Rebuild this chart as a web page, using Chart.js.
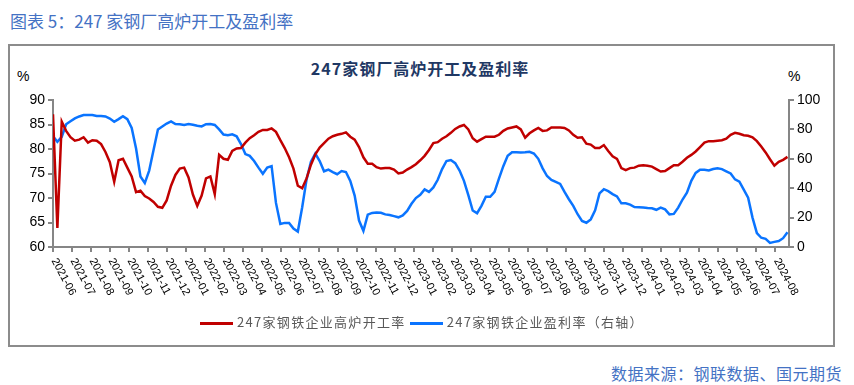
<!DOCTYPE html>
<html>
<head>
<meta charset="utf-8">
<script src="https://cdn.jsdelivr.net/npm/chart.js@4.4.1/dist/chart.umd.min.js"></script>
<style>
  body { margin: 0; background: #fff; width: 854px; height: 385px; position: relative; overflow: hidden;
         font-family: "Liberation Sans", Arial, "Noto Sans CJK SC", sans-serif; }
  .abs { position: absolute; white-space: nowrap; }
  #caption { left: 10px; top: 8px; font-size: 17px; color: #4472C4; font-family: "Noto Sans CJK SC", sans-serif; }
  #frame { left: 8px; top: 44px; width: 823px; height: 299px; border: 2px solid #8c8c8c; }
  #title { left: 0; width: 840px; top: 56px; text-align: center; font-size: 16px; font-weight: bold; color: #1F3864;
           letter-spacing: 1px; font-family: "Noto Sans CJK SC", sans-serif; }
  .pct { top: 68px; font-size: 14px; color: #000; }
  #legend { left: 200px; top: 312px; font-size: 13px; color: #595959; font-family: "Noto Sans CJK SC", sans-serif; letter-spacing: 1.3px; }
  #legend span.sw { display: inline-block; width: 33px; height: 3px; vertical-align: middle; margin-right: 4px; }
  #source { left: 611px; top: 361px; font-size: 16px; color: #4472C4; font-family: "Noto Sans CJK SC", sans-serif; letter-spacing: 0.5px; }
  #wrap { position: absolute; left: 10px; top: 46px; width: 822px; height: 299px; }
</style>
</head>
<body>
<div id="caption" class="abs">图表 5：247 家钢厂高炉开工及盈利率</div>
<div id="frame" class="abs"></div>
<div id="title" class="abs">247家钢厂高炉开工及盈利率</div>
<div class="abs pct" style="left:17px;">%</div>
<div class="abs pct" style="left:788px;">%</div>
<div id="wrap"><canvas id="c" width="822" height="299"></canvas></div>
<div id="legend" class="abs"><span class="sw" style="background:#C00000"></span>247家钢铁企业高炉开工率 <span class="sw" style="background:#0A74FF"></span>247家钢铁企业盈利率（右轴）</div>
<div id="source" class="abs">数据来源：钢联数据、国元期货</div>

<script>
// month tick labels
var months = ['2021-06','2021-07','2021-08','2021-09','2021-10','2021-11','2021-12',
  '2022-01','2022-02','2022-03','2022-04','2022-05','2022-06','2022-07','2022-08','2022-09','2022-10','2022-11','2022-12',
  '2023-01','2023-02','2023-03','2023-04','2023-05','2023-06','2023-07','2023-08','2023-09','2023-10','2023-11','2023-12',
  '2024-01','2024-02','2024-03','2024-04','2024-05','2024-06','2024-07','2024-08'];

// weekly, from the first week of 2021-06
var blastFurnaceRate = [
  87.1, 63.9, 85.6, 83.7, 82.4, 81.7, 81.9, 82.4, 81.3, 81.8,
  81.7, 81.0, 79.4, 77.3, 73.3, 77.7, 78.0, 76.2, 74.4, 71.2,
  71.5, 70.4, 69.9, 69.2, 68.2, 68.0, 69.5, 72.5, 74.7, 76.0,
  76.2, 74.2, 70.7, 68.4, 70.5, 74.0, 74.4, 70.8, 78.8, 78.0,
  77.8, 79.6, 80.1, 80.2, 81.3, 82.2, 82.8, 83.5, 83.9, 83.9,
  84.2, 83.5, 81.8, 80.2, 78.3, 76.0, 72.5, 72.0, 74.0, 76.8,
  78.9, 80.3, 81.2, 82.1, 82.6, 82.9, 83.1, 83.4, 82.5, 81.9,
  80.4, 78.3, 77.0, 77.0, 76.3, 76.0, 76.1, 76.1, 75.8, 75.0,
  75.2, 75.8, 76.3, 76.9, 77.7, 78.6, 79.8, 81.2, 81.4, 82.1,
  82.6, 83.3, 84.1, 84.6, 84.9, 84.0, 82.2, 81.5, 82.0, 82.5,
  82.5, 82.5, 82.9, 83.7, 84.2, 84.4, 84.6, 84.0, 82.3, 83.2,
  83.8, 84.3, 83.7, 83.8, 84.4, 84.4, 84.4, 84.3, 83.8, 82.9,
  82.3, 82.4, 81.1, 80.9, 80.2, 80.2, 80.8, 79.6, 78.5, 78.0,
  76.1, 75.7, 76.1, 76.2, 76.6, 76.7, 76.6, 76.4, 75.9, 75.4,
  75.5, 76.1, 76.7, 76.7, 77.4, 78.2, 78.8, 79.5, 80.4, 81.3,
  81.6, 81.6, 81.7, 81.8, 82.1, 82.9, 83.3, 83.1, 82.8, 82.7,
  82.4, 81.6, 80.5, 79.3, 77.9, 76.6, 77.4, 77.8, 78.4
];

var profitRate = [
  75.3, 71.6, 75.0, 83.5, 85.5, 87.5, 88.8, 89.8, 89.8, 89.8,
  89.1, 89.1, 88.8, 87.4, 85.2, 87.0, 89.0, 87.0, 81.0, 67.0,
  48.0, 43.5, 52.0, 66.0, 80.0, 82.0, 84.0, 85.5, 83.7, 83.5,
  83.0, 83.7, 83.2, 82.5, 82.0, 83.5, 83.7, 83.0, 80.0, 76.5,
  76.0, 76.6, 75.3, 70.0, 63.2, 62.0, 58.5, 54.0, 49.8, 54.0,
  55.0, 30.0, 15.6, 16.4, 16.4, 12.5, 10.5, 27.0, 46.0, 58.0,
  63.5, 58.5, 51.5, 52.6, 51.0, 49.5, 51.7, 51.0, 45.0, 35.0,
  18.0, 11.0, 22.0, 23.2, 23.5, 23.3, 22.2, 21.8, 21.0, 20.2,
  21.5, 24.5, 29.4, 33.3, 35.5, 39.2, 37.5, 40.5, 45.7, 53.0,
  58.5, 59.2, 57.0, 52.0, 45.0, 35.3, 24.8, 23.0, 28.0, 34.2,
  34.2, 37.5, 46.5, 55.0, 62.0, 64.4, 64.4, 64.3, 64.4, 64.8,
  63.6, 60.0, 53.5, 48.3, 45.7, 44.3, 42.9, 37.5, 32.5, 28.0,
  22.3, 17.7, 16.5, 18.8, 25.0, 36.5, 39.3, 38.0, 36.0, 34.4,
  29.7, 29.8, 28.8, 27.2, 27.1, 26.9, 26.5, 26.3, 25.3, 26.8,
  25.6, 22.2, 22.5, 26.8, 32.3, 37.0, 45.0, 50.4, 52.5, 52.6,
  52.1, 53.1, 53.6, 53.0, 51.5, 50.0, 46.0, 44.4, 39.0, 33.5,
  20.0, 9.5, 6.3, 5.6, 2.8, 3.5, 4.1, 6.0, 10.0
];

var leftTicks = [60, 65, 70, 75, 80, 85, 90];
var rightTicks = [0, 20, 40, 60, 80, 100];

// one week in months
var weekStep = 12 / 52.18;
function toPoints(arr) {
    return arr.map(function (v, i) { return { x: i * weekStep, y: v }; });
}

var axisGray = '#868686';

var monthLabels = {
    id: 'monthLabels',
    afterDraw: function (chart) {
        var sx = chart.scales.x, ctx = chart.ctx;
        ctx.save();
        ctx.font = '11px "Liberation Sans", Arial';
        ctx.fillStyle = '#000';
        ctx.textAlign = 'left';
        ctx.textBaseline = 'middle';
        months.forEach(function (m, i) {
            var px = sx.getPixelForValue(i);
            ctx.save();
            ctx.translate(px + 1, sx.top + 12);
            ctx.rotate(62 * Math.PI / 180);
            ctx.fillText(m, 0, 0);
            ctx.restore();
        });
        ctx.restore();
    }
};

new Chart(document.getElementById('c'), {
    type: 'line',
    data: {
        datasets: [{
            label: '247家钢铁企业高炉开工率',
            data: toPoints(blastFurnaceRate),
            borderColor: '#C00000',
            borderWidth: 2.5,
            pointRadius: 0,
            tension: 0,
            yAxisID: 'y'
        }, {
            label: '247家钢铁企业盈利率（右轴）',
            data: toPoints(profitRate),
            borderColor: '#0A74FF',
            borderWidth: 2.5,
            pointRadius: 0,
            tension: 0,
            yAxisID: 'y1'
        }]
    },
    options: {
        responsive: false,
        animation: false,
        layout: { padding: { top: 54, left: 0, right: 0, bottom: 0 } },
        plugins: { legend: { display: false }, tooltip: { enabled: false } },
        scales: {
            x: {
                type: 'linear',
                min: 0,
                max: (blastFurnaceRate.length - 1) * weekStep + 0.08,
                afterBuildTicks: function (s) { s.ticks = months.map(function (m, i) { return { value: i }; }); },
                afterFit: function (s) { s.height = 98; },
                ticks: { display: false },
                grid: { drawOnChartArea: false, color: axisGray, lineWidth: 2, tickLength: 5 },
                border: { color: axisGray, width: 2 }
            },
            y: {
                position: 'left',
                min: 60, max: 90,
                afterBuildTicks: function (s) { s.ticks = leftTicks.map(function (v) { return { value: v }; }); },
                afterFit: function (s) { s.width = 43; },
                ticks: { color: '#000', font: { size: 14, family: '"Liberation Sans", Arial' }, padding: 3 },
                grid: { drawOnChartArea: false, color: axisGray, lineWidth: 2, tickLength: 5 },
                border: { color: axisGray, width: 2 }
            },
            y1: {
                position: 'right',
                min: 0, max: 100,
                afterBuildTicks: function (s) { s.ticks = rightTicks.map(function (v) { return { value: v }; }); },
                afterFit: function (s) { s.width = 43; },
                ticks: { color: '#000', font: { size: 14, family: '"Liberation Sans", Arial' }, padding: 3 },
                grid: { drawOnChartArea: false, color: axisGray, lineWidth: 2, tickLength: 5 },
                border: { color: axisGray, width: 2 }
            }
        }
    },
    plugins: [monthLabels]
});
</script>
</body>
</html>
